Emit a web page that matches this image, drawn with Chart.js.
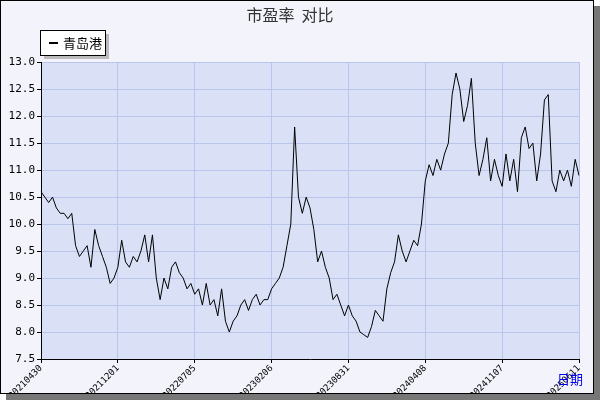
<!DOCTYPE html>
<html><head><meta charset="utf-8">
<script src="https://cdn.jsdelivr.net/npm/chart.js@4.4.1/dist/chart.umd.min.js"></script>
<style>
html,body{margin:0;padding:0;background:#fff;}
#wrap{position:absolute;left:0;top:0;width:592px;height:392px;background:#f2f3fb;border:1px solid #000;box-shadow:6px 6px 0 #777;}
canvas{display:block;}
</style></head><body>
<div id="wrap"><canvas id="c" width="592" height="392"></canvas></div>
<script>
/* PE ratio readings, one point per ~4px of the reference plot */
var peValues = [
  10.6,10.5,10.4,10.5,10.3,10.2,10.2,10.1,10.2,9.6,9.4,9.5,9.6,9.2,9.9,9.6,9.4,9.2,8.9,9.0,
  9.2,9.7,9.3,9.2,9.4,9.3,9.5,9.8,9.3,9.8,9.0,8.6,9.0,8.8,9.2,9.3,9.1,9.0,8.8,8.9,
  8.7,8.8,8.5,8.9,8.5,8.6,8.3,8.8,8.2,8.0,8.2,8.3,8.5,8.6,8.4,8.6,8.7,8.5,8.6,8.6,
  8.8,8.9,9.0,9.2,9.6,10.0,11.8,10.5,10.2,10.5,10.3,9.9,9.3,9.5,9.2,9.0,8.6,8.7,8.5,8.3,
  8.5,8.3,8.2,8.0,7.95,7.9,8.1,8.4,8.3,8.2,8.8,9.1,9.3,9.8,9.5,9.3,9.5,9.7,9.6,10.0,
  10.8,11.1,10.9,11.2,11.0,11.3,11.5,12.4,12.8,12.5,11.9,12.2,12.7,11.5,10.9,11.2,11.6,10.8,11.2,10.9,
  10.7,11.3,10.8,11.2,10.6,11.6,11.8,11.4,11.5,10.8,11.3,12.3,12.4,10.8,10.6,11.0,10.8,11.0,10.7,11.2,
  10.9
];
var tickLabels = ['20210430','20211201','20220705','20230206','20230831','20240408','20241107','20250611'];
var tickStep = 20;
var seriesName = '青岛港';

var labels = peValues.map(function (v, i) {
  return i % tickStep === 0 ? tickLabels[i / tickStep] : '';
});

var FONT = "'DejaVu Sans Mono', monospace";

var extras = {
  id: 'extras',
  beforeDraw: function (chart) {
    var a = chart.chartArea, ctx = chart.ctx;
    ctx.save();
    ctx.fillStyle = '#dae1f6';
    ctx.fillRect(a.left, a.top, a.right - a.left, a.bottom - a.top);
    ctx.restore();
  },
  afterDraw: function (chart) {
    var ctx = chart.ctx;
    ctx.save();
    /* legend box */
    ctx.fillStyle = '#bbb';
    ctx.fillRect(43, 33, 65, 25);
    ctx.fillStyle = '#fff';
    ctx.fillRect(39, 29, 65, 25);
    ctx.strokeStyle = '#000';
    ctx.lineWidth = 1;
    ctx.strokeRect(39.5, 29.5, 65, 25);
    ctx.fillStyle = '#000';
    ctx.fillRect(48, 41, 9, 2);
    ctx.font = "13px 'Noto Sans CJK SC'";
    ctx.textBaseline = 'middle';
    ctx.fillText(seriesName, 62, 42);
    /* axis name */
    ctx.fillStyle = '#0000ee';
    ctx.font = "13px 'Noto Sans CJK SC'";
    ctx.fillText('日期', 556, 378);
    ctx.restore();
  }
};

new Chart(document.getElementById('c'), {
  type: 'line',
  data: {
    labels: labels,
    datasets: [{
      label: seriesName,
      data: peValues,
      borderColor: '#000',
      borderWidth: 1,
      pointRadius: 0,
      tension: 0
    }]
  },
  plugins: [extras],
  options: {
    responsive: false,
    animation: false,
    layout: { padding: { left: 0, right: 14, top: 0, bottom: 0 } },
    plugins: {
      legend: { display: false },
      tooltip: { enabled: false },
      title: {
        display: true,
        text: '市盈率  对比',
        color: '#333',
        font: { family: "'Noto Sans CJK SC'", size: 16, weight: 'normal' },
        padding: { top: 4, bottom: 38 }
      }
    },
    scales: {
      x: {
        offset: false,
        grid: { color: '#b9c5ea', drawTicks: true, tickLength: 4, tickColor: '#000' },
        border: { color: '#000' },
        afterFit: function (s) { s.height = 34; },
        ticks: {
          autoSkip: false,
          maxRotation: 45,
          minRotation: 45,
          color: '#000',
          padding: 0,
          font: { family: FONT, size: 9 },
          callback: function (v) { return labels[v]; }
        },
        afterBuildTicks: function (s) {
          s.ticks = s.ticks.filter(function (t) { return t.value % tickStep === 0; });
        }
      },
      y: {
        min: 7.5,
        max: 13.0,
        afterFit: function (s) { s.width = 40; },
        grid: { color: '#b9c5ea', tickLength: 4, tickColor: '#000' },
        border: { color: '#000' },
        ticks: {
          stepSize: 0.5,
          color: '#000',
          padding: 2,
          font: { family: FONT, size: 11 },
          callback: function (v) { return v.toFixed(1); }
        }
      }
    }
  }
});
</script>
</body></html>
